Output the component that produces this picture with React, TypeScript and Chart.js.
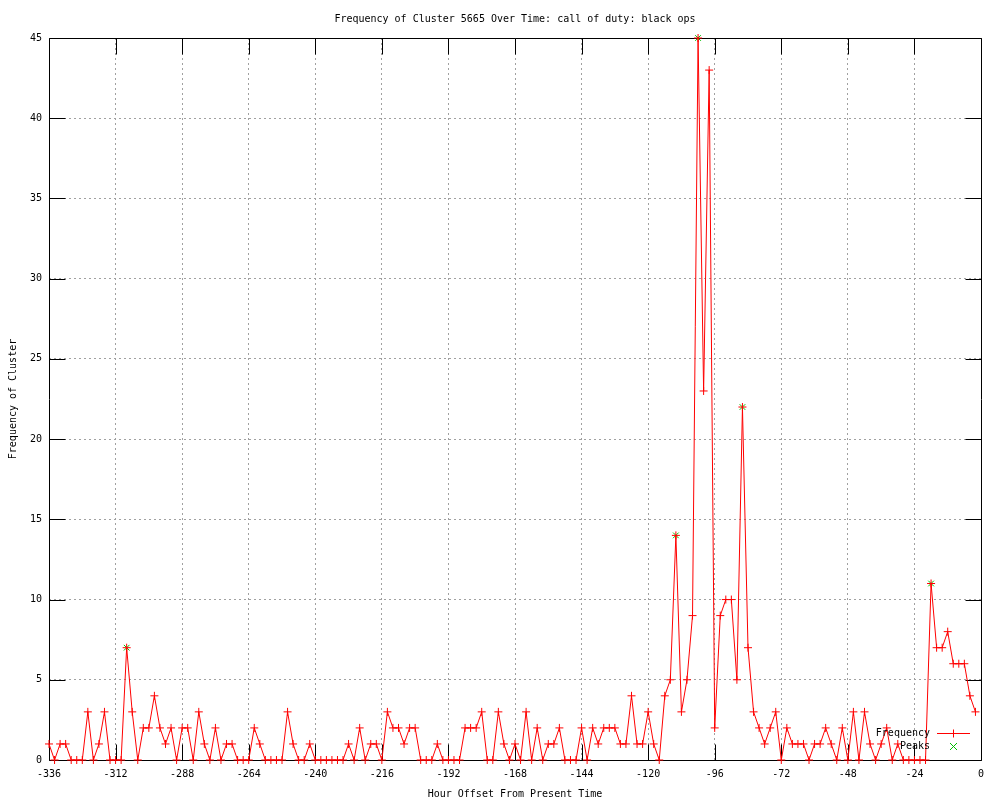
import React, { useEffect, useRef } from 'react';
import { Chart, registerables } from 'chart.js';

Chart.register(...registerables);

const chartTitle = 'Frequency of Cluster 5665 Over Time: call of duty: black ops';
const xAxisTitle = 'Hour Offset From Present Time';
const yAxisTitle = 'Frequency of Cluster';

const hours = [
  -336, -334, -332, -330, -328, -326, -324, -322, -320, -318, -316, -314,
  -312, -310, -308, -306, -304, -302, -300, -298, -296, -294, -292, -290,
  -288, -286, -284, -282, -280, -278, -276, -274, -272, -270, -268, -266,
  -264, -262, -260, -258, -256, -254, -252, -250, -248, -246, -244, -242,
  -240, -238, -236, -234, -232, -230, -228, -226, -224, -222, -220, -218,
  -216, -214, -212, -210, -208, -206, -204, -202, -200, -198, -196, -194,
  -192, -190, -188, -186, -184, -182, -180, -178, -176, -174, -172, -170,
  -168, -166, -164, -162, -160, -158, -156, -154, -152, -150, -148, -146,
  -144, -142, -140, -138, -136, -134, -132, -130, -128, -126, -124, -122,
  -120, -118, -116, -114, -112, -110, -108, -106, -104, -102, -100, -98,
  -96, -94, -92, -90, -88, -86, -84, -82, -80, -78, -76, -74,
  -72, -70, -68, -66, -64, -62, -60, -58, -56, -54, -52, -50,
  -48, -46, -44, -42, -40, -38, -36, -34, -32, -30, -28, -26,
  -24, -22, -20, -18, -16, -14, -12, -10, -8, -6, -4, -2,
];

const frequency = [
  1, 0, 1, 1, 0, 0, 0, 3, 0, 1, 3, 0,
  0, 0, 7, 3, 0, 2, 2, 4, 2, 1, 2, 0,
  2, 2, 0, 3, 1, 0, 2, 0, 1, 1, 0, 0,
  0, 2, 1, 0, 0, 0, 0, 3, 1, 0, 0, 1,
  0, 0, 0, 0, 0, 0, 1, 0, 2, 0, 1, 1,
  0, 3, 2, 2, 1, 2, 2, 0, 0, 0, 1, 0,
  0, 0, 0, 2, 2, 2, 3, 0, 0, 3, 1, 0,
  1, 0, 3, 0, 2, 0, 1, 1, 2, 0, 0, 0,
  2, 0, 2, 1, 2, 2, 2, 1, 1, 4, 1, 1,
  3, 1, 0, 4, 5, 14, 3, 5, 9, 45, 23, 43,
  2, 9, 10, 10, 5, 22, 7, 3, 2, 1, 2, 3,
  0, 2, 1, 1, 1, 0, 1, 1, 2, 1, 0, 2,
  0, 3, 0, 3, 1, 0, 1, 2, 0, 1, 0, 0,
  0, 0, 0, 11, 7, 7, 8, 6, 6, 6, 4, 3,
];

const peakHours = [-308, -110, -102, -86, -18];
const peakValues = [7, 14, 45, 22, 11];

const xTicks = [-336, -312, -288, -264, -240, -216, -192, -168, -144, -120, -96, -72, -48, -24, 0];
const yTicks = [0, 5, 10, 15, 20, 25, 30, 35, 40, 45];

const FREQ_COLOR = 'rgb(255, 0, 0)';
const PEAK_COLOR = 'rgb(0, 192, 0)';
const GRID_COLOR = '#a0a0a0';
const FONT = '"DejaVu Sans Mono", "Liberation Mono", monospace';
const TICK_LEN = 16;

const framePlugin = {
  id: 'gnuFrame',
  beforeDatasetsDraw(chart: any) {
    const { ctx, chartArea: a, scales } = chart;
    const xs = scales.x;
    const ys = scales.y;
    const L = Math.round(a.left) + 0.5;
    const R = Math.round(a.right) + 0.5;
    const T = Math.round(a.top) + 0.5;
    const B = Math.round(a.bottom) + 0.5;
    ctx.save();
    ctx.setLineDash([]);
    ctx.globalAlpha = 1;
    ctx.strokeStyle = '#000000';
    ctx.lineWidth = 1;
    ctx.beginPath();
    ctx.rect(L, T, R - L, B - T);
    ctx.stroke();
    ctx.beginPath();
    xTicks.forEach((v) => {
      const px = Math.round(xs.getPixelForValue(v)) + 0.5;
      ctx.moveTo(px, B);
      ctx.lineTo(px, B - TICK_LEN);
      ctx.moveTo(px, T);
      ctx.lineTo(px, T + TICK_LEN);
    });
    yTicks.forEach((v) => {
      const py = Math.round(ys.getPixelForValue(v)) + 0.5;
      ctx.moveTo(L, py);
      ctx.lineTo(L + TICK_LEN, py);
      ctx.moveTo(R, py);
      ctx.lineTo(R - TICK_LEN, py);
    });
    ctx.stroke();
    ctx.restore();
  },
};

const keyPlugin = {
  id: 'gnuKey',
  afterDraw(chart: any) {
    const { ctx, chartArea: a } = chart;
    const ds = chart.data.datasets;
    const textX = a.right - 51;
    const s1 = a.right - 44;
    const s2 = a.right - 11;
    const mx = Math.round(a.right - 28) + 0.5;
    const rows = [a.bottom - 27, a.bottom - 14];
    const colors = [FREQ_COLOR, PEAK_COLOR];
    ctx.save();
    ctx.globalAlpha = 1;
    ctx.globalCompositeOperation = 'source-over';
    ctx.font = '10px ' + FONT;
    ctx.textAlign = 'right';
    ctx.textBaseline = 'middle';
    ctx.setLineDash([]);
    for (let i = 0; i < ds.length; i++) {
      const y = Math.round(rows[i]) + 0.5;
      ctx.fillStyle = '#000000';
      ctx.fillText(String(ds[i].label), textX, y);
      ctx.strokeStyle = colors[i];
      ctx.lineWidth = 1;
      ctx.beginPath();
      if (i === 0) {
        ctx.moveTo(s1, y);
        ctx.lineTo(s2, y);
        ctx.moveTo(mx, y - 4);
        ctx.lineTo(mx, y + 4);
      } else {
        ctx.moveTo(mx - 3.5, y - 3.5);
        ctx.lineTo(mx + 3.5, y + 3.5);
        ctx.moveTo(mx + 3.5, y - 3.5);
        ctx.lineTo(mx - 3.5, y + 3.5);
      }
      ctx.stroke();
    }
    ctx.restore();
  },
};

export default function App() {
  const canvasRef = useRef<HTMLCanvasElement | null>(null);

  useEffect(() => {
    const canvas = canvasRef.current;
    if (!canvas) return;
    const chart = new Chart(canvas, {
      type: 'line',
      data: {
        datasets: [
          {
            label: 'Frequency',
            data: hours.map((h, i) => ({ x: h, y: frequency[i] })),
            borderColor: FREQ_COLOR,
            backgroundColor: FREQ_COLOR,
            borderWidth: 1,
            pointStyle: 'cross',
            pointRadius: 4,
            pointBorderWidth: 1,
            pointBorderColor: FREQ_COLOR,
            tension: 0,
            fill: false,
            clip: false,
          },
          {
            label: 'Peaks',
            data: peakHours.map((h, i) => ({ x: h, y: peakValues[i] })),
            borderColor: PEAK_COLOR,
            backgroundColor: PEAK_COLOR,
            showLine: false,
            pointStyle: 'crossRot',
            pointRadius: 4,
            pointBorderWidth: 1,
            pointBorderColor: PEAK_COLOR,
            clip: false,
          },
        ],
      },
      options: {
        animation: false,
        responsive: false,
        devicePixelRatio: 1,
        events: [],
        layout: { padding: { left: 0, right: 19, top: 0, bottom: 0 } },
        plugins: {
          legend: { display: false },
          tooltip: { enabled: false },
          title: {
            display: true,
            text: chartTitle,
            fullSize: false,
            color: '#000000',
            font: { family: FONT, size: 10, weight: 'normal', lineHeight: 1.2 },
            padding: { top: 13, bottom: 13 },
          },
        },
        scales: {
          x: {
            type: 'linear',
            min: -336,
            max: 0,
            afterBuildTicks: (s: any) => {
              s.ticks = xTicks.map((v) => ({ value: v }));
            },
            afterFit: (s: any) => {
              s.height = 40;
            },
            ticks: {
              autoSkip: false,
              maxRotation: 0,
              minRotation: 0,
              padding: 8,
              color: '#000000',
              font: { family: FONT, size: 10 },
            },
            grid: {
              color: (c: any) => (c.tick && (c.tick.value === -336 || c.tick.value === 0) ? 'rgba(0,0,0,0)' : GRID_COLOR),
              lineWidth: 1,
              drawTicks: false,
            },
            border: { display: false, dash: [2, 3] },
            title: {
              display: true,
              text: xAxisTitle,
              color: '#000000',
              font: { family: FONT, size: 10, lineHeight: 1.2 },
              padding: { top: 1, bottom: 0 },
            },
          },
          y: {
            type: 'linear',
            min: 0,
            max: 45,
            afterBuildTicks: (s: any) => {
              s.ticks = yTicks.map((v) => ({ value: v }));
            },
            afterFit: (s: any) => {
              s.width = 49;
            },
            ticks: {
              padding: 7,
              color: '#000000',
              font: { family: FONT, size: 10 },
            },
            grid: {
              color: (c: any) => (c.tick && (c.tick.value === 0 || c.tick.value === 45) ? 'rgba(0,0,0,0)' : GRID_COLOR),
              lineWidth: 1,
              drawTicks: false,
            },
            border: { display: false, dash: [2, 3] },
            title: {
              display: true,
              text: yAxisTitle,
              color: '#000000',
              font: { family: FONT, size: 10, lineHeight: 1.2 },
              padding: { top: 7, bottom: 0 },
            },
          },
        },
      },
      plugins: [framePlugin, keyPlugin],
    });
    return () => {
      chart.destroy();
    };
  }, []);

  return (
    <div style={{ position: 'absolute', left: 0, top: 0, width: 1000, height: 800, background: '#ffffff' }}>
      <canvas ref={canvasRef} width={1000} height={800} style={{ display: 'block', width: 1000, height: 800 }} />
    </div>
  );
}
